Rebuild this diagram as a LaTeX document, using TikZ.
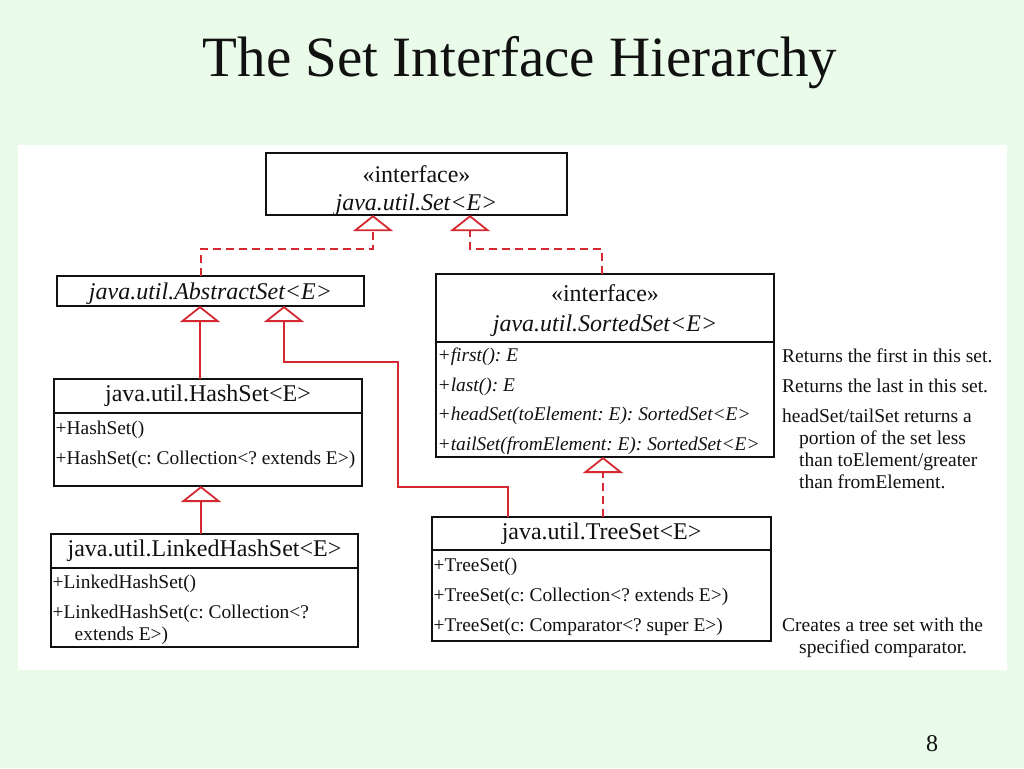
\documentclass[tikz,border=0pt]{standalone}
\usepackage{fontspec}
\setmainfont{Liberation Serif}
\usepackage{xcolor}
\definecolor{pSlide}{HTML}{EAFBEA}
\definecolor{pRed}{HTML}{D62830}
\definecolor{pInk}{HTML}{111111}
\usepackage{tikz}
\usetikzlibrary{arrows.meta, positioning, calc}
\frenchspacing

\begin{document}
\begin{tikzpicture}[
  x=1pt, y=-1pt,
  every node/.style={text=pInk},
  head/.style ={rectangle, draw=pInk, line width=1.3pt, inner sep=0pt, outer sep=0pt,
                align=center, font=\fontsize{24}{28}\selectfont, anchor=north west},
  body/.style ={rectangle, draw=pInk, line width=1.3pt, inner sep=0pt, outer sep=0pt},
  ops/.style  ={anchor=north west, inner sep=0pt, align=left,
                font=\fontsize{19.4}{22}\selectfont},
  note/.style ={anchor=north west, inner sep=0pt, align=left,
                font=\fontsize{19.5}{22}\selectfont},
  gen/.style  ={-{Triangle[open, length=16pt, width=40pt]}, draw=pRed,
                line width=1.8pt},
  impl/.style ={gen, dash pattern=on 8pt off 5pt}
]
\useasboundingbox (0,0) rectangle (1024,768);
\fill[pSlide] (0,0) rectangle (1024,768);
\fill[white] (18,145) rectangle (1007,670);

\node[anchor=base, font=\fontsize{57}{60}\selectfont] (title) at (520,76)
  {The Set Interface Hierarchy};
\node[anchor=base, font=\fontsize{24}{26}\selectfont] (pageno) at (932,751) {8};

% interfaces
\node[head, minimum width=301, minimum height=61] (set) at (266,153)
  {\rule{0pt}{29pt}«interface»\\\textit{java.util.Set<E>}};
\node[head, minimum width=338, minimum height=68, font=\fontsize{24}{30}\selectfont]
  (sorted) at (436,274) {\rule{0pt}{23pt}«interface»\\\textit{java.util.SortedSet<E>}};
\node[body, minimum width=338, minimum height=115, below=0pt of sorted] (sortedBody) {};
\node[ops, font=\itshape\fontsize{19.4}{22}\selectfont] (sortedOps)
  at ([xshift=1.5pt, yshift=-6pt]sortedBody.north west)
  {+first(): E\\[7.5pt]+last(): E\\[7.5pt]+headSet(toElement: E): SortedSet<E>\\[7.5pt]%
   +tailSet(fromElement: E): SortedSet<E>};

% classes
\node[head, minimum width=307, minimum height=30] (abstract) at (57,276)
  {\rule{0pt}{22pt}\textit{java.util.AbstractSet<E>}};

\node[head, minimum width=308, minimum height=34] (hash) at (54,379)
  {java.util.HashSet<E>};
\node[body, minimum width=308, minimum height=73, below=0pt of hash] (hashBody) {};
\node[ops] (hashOps) at ([xshift=1.5pt, yshift=-8pt]hashBody.north west)
  {+HashSet()\\[8pt]+HashSet(c: Collection<? extends E>)};

\node[head, minimum width=307, minimum height=34] (linked) at (51,534)
  {java.util.LinkedHashSet<E>};
\node[body, minimum width=307, minimum height=79, below=0pt of linked] (linkedBody) {};
\node[ops] (linkedOps) at ([xshift=1.5pt, yshift=-7pt]linkedBody.north west)
  {+LinkedHashSet()\\[8pt]+LinkedHashSet(c: Collection<?\\\hspace*{22pt}extends E>)};

\node[head, minimum width=339, minimum height=33] (tree) at (432,517)
  {java.util.TreeSet<E>};
\node[body, minimum width=339, minimum height=91, below=0pt of tree] (treeBody) {};
\node[ops] (treeOps) at ([xshift=1.5pt, yshift=-8pt]treeBody.north west)
  {+TreeSet()\\[8pt]+TreeSet(c: Collection<? extends E>)\\[8pt]%
   +TreeSet(c: Comparator<? super E>)};

% notes
\node[note] (noteSorted) at (782,349)
  {Returns the first in this set.\\[8pt]Returns the last in this set.\\[8pt]%
   headSet/tailSet returns a\\\hspace*{17pt}portion of the set less\\%
   \hspace*{17pt}than toElement/greater\\\hspace*{17pt}than fromElement.};
\node[note] (noteTree) at (782,618)
  {Creates a tree set with the\\\hspace*{17pt}specified comparator.};

% inheritance
\draw[impl] (abstract.north -| 201,0) -- ++(0,-27) -| (set.south -| 373,0);
\draw[impl] (sorted.north -| 602,0) -- ++(0,-25) -| (set.south -| 470,0);
\draw[gen] (hash.north -| 200,0) -- (abstract.south -| 200,0);
\draw[gen] (tree.north -| 508,0) -- ++(0,-30) -- ++(-110,0) -- ++(0,-125)
  -| (abstract.south -| 284,0);
\draw[gen] (linked.north -| 201,0) -- (hashBody.south -| 201,0);
\draw[impl] (tree.north -| 603,0) -- (sortedBody.south -| 603,0);
\end{tikzpicture}
\end{document}
